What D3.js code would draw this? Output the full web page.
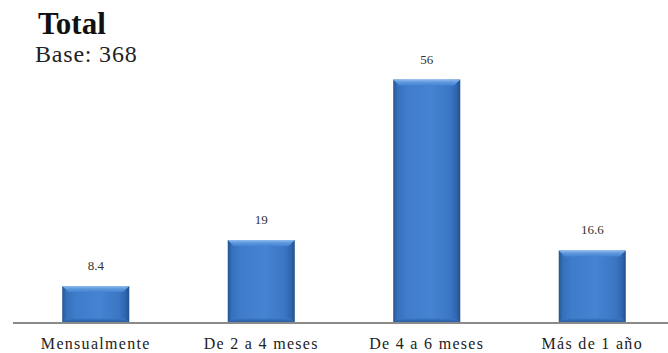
<!DOCTYPE html>
<html>
<head>
<meta charset="utf-8">
<script src="https://cdn.jsdelivr.net/npm/d3@7"></script>
<style>
  html, body { margin: 0; padding: 0; background: #fff; }
  svg { display: block; }
</style>
</head>
<body>
<svg id="chart" width="668" height="353"></svg>
<script>
// Frequency categories and their percentages
const categories = ["Mensualmente", "De 2 a 4 meses", "De 4 a 6 meses", "Más de 1 año"];
const values = [8.4, 19, 56, 16.6];
const valueLabels = ["8.4", "19", "56", "16.6"];
const title = "Total";
const subtitle = "Base: 368";

const svg = d3.select("#chart");
const W = 668, H = 353;
const baseY = 322.5;

const x = d3.scaleBand()
  .domain(categories)
  .range([13, 675])
  .paddingInner(0.595)
  .paddingOuter(0.2975);

const y = d3.scaleLinear()
  .domain([0, 56])
  .range([baseY, 79.5]);

// Gradients for the bevelled blue bars
const defs = svg.append("defs");
const sideGrad = defs.append("linearGradient").attr("id", "barSide")
  .attr("x1", "0%").attr("x2", "100%").attr("y1", "0%").attr("y2", "0%");
[["0%", "#24548f"], ["6%", "#3570bb"], ["20%", "#3f7ccb"], ["55%", "#4584d2"],
 ["85%", "#3a76c4"], ["95%", "#2e64ab"], ["100%", "#224f88"]]
  .forEach(([o, c]) => sideGrad.append("stop").attr("offset", o).attr("stop-color", c));

const topGrad = defs.append("linearGradient").attr("id", "barTop")
  .attr("x1", "0%").attr("x2", "0%").attr("y1", "0%").attr("y2", "100%");
[["0%", "#8fbcef"], ["45%", "#5f98de"], ["100%", "#4584d2"]]
  .forEach(([o, c]) => topGrad.append("stop").attr("offset", o).attr("stop-color", c));

const bottomGrad = defs.append("linearGradient").attr("id", "barBottom")
  .attr("x1", "0%").attr("x2", "0%").attr("y1", "0%").attr("y2", "100%");
[["0%", "#3a76c4"], ["100%", "#2a5c9f"]]
  .forEach(([o, c]) => bottomGrad.append("stop").attr("offset", o).attr("stop-color", c));

const data = categories.map((c, i) => ({ c, v: values[i], label: valueLabels[i] }));

const bars = svg.append("g").selectAll("g.bar").data(data).join("g").attr("class", "bar");

// Bar body
bars.append("rect")
  .attr("x", d => x(d.c))
  .attr("y", d => y(d.v))
  .attr("width", x.bandwidth())
  .attr("height", d => baseY - y(d.v))
  .attr("fill", "url(#barSide)");

// Top bevel highlight
const bevel = 6;
bars.append("path")
  .attr("d", d => {
    const x0 = x(d.c), x1 = x0 + x.bandwidth(), t = y(d.v);
    return `M${x0},${t} L${x1},${t} L${x1 - bevel},${t + bevel} L${x0 + bevel},${t + bevel} Z`;
  })
  .attr("fill", "url(#barTop)");

// Bottom shade
bars.append("path")
  .attr("d", d => {
    const x0 = x(d.c), x1 = x0 + x.bandwidth();
    return `M${x0},${baseY} L${x1},${baseY} L${x1 - 4},${baseY - 4} L${x0 + 4},${baseY - 4} Z`;
  })
  .attr("fill", "url(#barBottom)");

// Value labels above bars
bars.append("text")
  .attr("x", d => x(d.c) + x.bandwidth() / 2)
  .attr("y", d => y(d.v) - 16)
  .attr("text-anchor", "middle")
  .attr("font-family", "Liberation Serif, Times New Roman, serif")
  .attr("font-size", 13)
  .attr("fill", "#333")
  .text(d => d.label);

// Baseline
svg.append("line")
  .attr("x1", 13).attr("x2", W)
  .attr("y1", baseY + 0.5).attr("y2", baseY + 0.5)
  .attr("stroke", "#8a8a8a").attr("stroke-width", 2);

// Category axis labels
const xAxis = d3.axisBottom(x).tickSize(0).tickPadding(0);
const axisG = svg.append("g").attr("transform", `translate(0,${baseY})`).call(xAxis);
axisG.select(".domain").remove();
axisG.selectAll("text")
  .attr("y", 26)
  .attr("dy", 0)
  .attr("font-family", "Liberation Serif, Times New Roman, serif")
  .attr("font-size", 16)
  .attr("letter-spacing", "1.3px")
  .attr("fill", "#222");

// Title block
svg.append("text")
  .attr("x", 38).attr("y", 34)
  .attr("font-family", "Liberation Serif, Times New Roman, serif")
  .attr("font-weight", "bold")
  .attr("font-size", 31)
  .attr("fill", "#111")
  .text(title);

svg.append("text")
  .attr("x", 35).attr("y", 62)
  .attr("font-family", "Liberation Serif, Times New Roman, serif")
  .attr("font-size", 24)
  .attr("letter-spacing", "0.8px")
  .attr("fill", "#222")
  .text(subtitle);
</script>
</body>
</html>
